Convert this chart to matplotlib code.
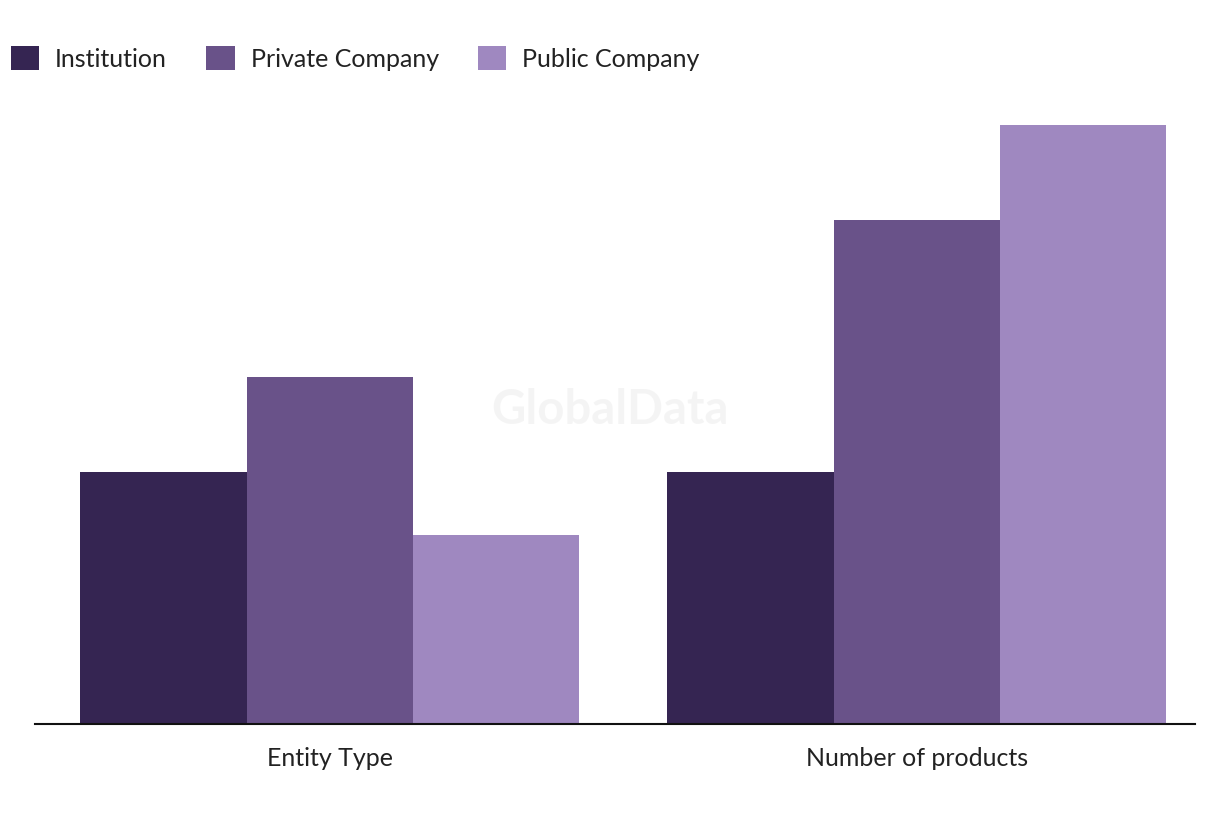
import matplotlib.pyplot as plt
import numpy as np
from matplotlib.patches import Patch

# 数据
categories = ['Entity Type', 'Number of products']
series = ['Institution', 'Private Company', 'Public Company']
institution = [8, 8]
private_company = [11, 16]
public_company = [6, 19]
colors = ['#352552', '#695289', '#9f88c0']

plt.rcParams['font.family'] = ['Lato', 'DejaVu Sans']

fig = plt.figure(figsize=(12.2, 8.2), dpi=100)
ax = fig.add_axes([35 / 1220, 1 - 724.5 / 820, 1160 / 1220, 624.5 / 820])

x = np.arange(len(categories))
w = 0.2833
for i, (vals, c) in enumerate(zip([institution, private_company, public_company], colors)):
    ax.bar(x + (i - 1) * w, vals, width=w, color=c, linewidth=0)

ax.set_xlim(-0.502, 1.474)
ax.set_ylim(0, 624.5 / 31.5)
ax.set_yticks([])
ax.set_xticks(x)
ax.set_xticklabels(categories, fontsize=18, color='#222222')
ax.tick_params(axis='x', length=0, pad=16)
for s in ['top', 'left', 'right']:
    ax.spines[s].set_visible(False)
ax.spines['bottom'].set_linewidth(1.5)
ax.spines['bottom'].set_color('#111111')

# 水印
fig.text(610 / 1220, 1 - 410 / 820, 'GlobalData', fontsize=34, fontweight='bold',
         color='#eeeeee', alpha=0.6, ha='center', va='center')

# 图例
handles = [Patch(facecolor=c, edgecolor='none', label=s) for s, c in zip(series, colors)]
fig.legend(handles=handles, loc='upper left', bbox_to_anchor=(3 / 1220, 1 - 39 / 820),
           ncol=3, frameon=False, fontsize=18, handlelength=1.15, handleheight=1.15,
           handletextpad=0.64, columnspacing=1.55, borderaxespad=0, borderpad=0.3,
           labelcolor='#222222')

plt.savefig('out.png', dpi=100)
